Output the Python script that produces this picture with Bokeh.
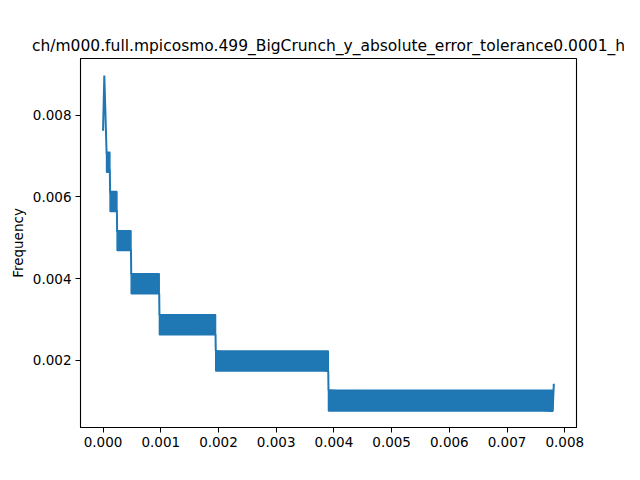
from bokeh.plotting import figure
from bokeh.models import Range1d, FixedTicker, PrintfTickFormatter
from bokeh.embed import file_html
from bokeh.resources import INLINE

title_text = "ch/m000.full.mpicosmo.499_BigCrunch_y_absolute_error_tolerance0.0001_h"
y_label = "Frequency"

# first few bins before the banded part
head_x = [0.0, 0.000022, 0.000061]
head_y = [0.00762, 0.00897, 0.00709]

# each band: the histogram flips between a high and a low level
band_x0 = [0.000061, 0.000122, 0.000244, 0.000488, 0.000977, 0.001953, 0.003906]
band_x1 = [0.000118, 0.000240, 0.000484, 0.000973, 0.001949, 0.003902, 0.007790]
band_hi = [0.00709, 0.00613, 0.00517, 0.00412, 0.00312, 0.00223, 0.00127]
band_lo = [0.00660, 0.00564, 0.00469, 0.00363, 0.00263, 0.00174, 0.00076]

# last bin
tail_x = [0.007810]
tail_y = [0.00143]

x_ticks = [0.0, 0.001, 0.002, 0.003, 0.004, 0.005, 0.006, 0.007, 0.008]
y_ticks = [0.002, 0.004, 0.006, 0.008]

blue = "#1f77b4"
font = "DejaVu Sans"

p = figure(width=624, height=464, output_backend="svg", toolbar_location=None,
           x_range=Range1d(-0.000390625, 0.008203125), y_range=Range1d(0.000359, 0.009385),
           min_border_left=80, min_border_right=48, min_border_top=58, min_border_bottom=37)

p.title.text = title_text
p.title.align = "center"
p.title.text_font = font
p.title.text_font_size = "15.5px"
p.title.text_font_style = "normal"
p.title.text_color = "black"
p.title.standoff = 8

# outline like a matplotlib box
p.outline_line_color = "black"
p.outline_line_width = 1.1
p.xgrid.visible = False
p.ygrid.visible = False
p.background_fill_color = "white"
p.border_fill_color = "white"

for ax in (p.xaxis, p.yaxis):
    ax.major_tick_out = 5
    ax.major_tick_in = 0
    ax.minor_tick_line_color = None
    ax.axis_line_color = "black"
    ax.major_tick_line_color = "black"
    ax.major_label_text_font = font
    ax.major_label_text_font_size = "13.5px"
    ax.major_label_text_color = "black"
    ax.major_label_standoff = 4
    ax.formatter = PrintfTickFormatter(format="%.3f")

p.xaxis.ticker = FixedTicker(ticks=x_ticks)
p.yaxis.ticker = FixedTicker(ticks=y_ticks)
p.yaxis.axis_label = y_label
p.yaxis.axis_label_text_font = font
p.yaxis.axis_label_text_font_size = "13.5px"
p.yaxis.axis_label_text_font_style = "normal"
p.yaxis.axis_label_text_color = "black"
p.yaxis.axis_label_standoff = 4

# dense zig-zag inside each band shows as a solid block
p.quad(left=band_x0, right=band_x1, top=band_hi, bottom=band_lo,
       fill_color=blue, line_color=blue, line_width=1.5)

# the line joining head, bands and tail
line_x = list(head_x)
line_y = list(head_y)
for x0, x1, hi, lo in zip(band_x0, band_x1, band_hi, band_lo):
    line_x += [x0, x1]
    line_y += [hi, lo]
line_x += tail_x
line_y += tail_y
p.line(line_x, line_y, line_color=blue, line_width=2)

open("out.html", "w").write(file_html(p, INLINE))
